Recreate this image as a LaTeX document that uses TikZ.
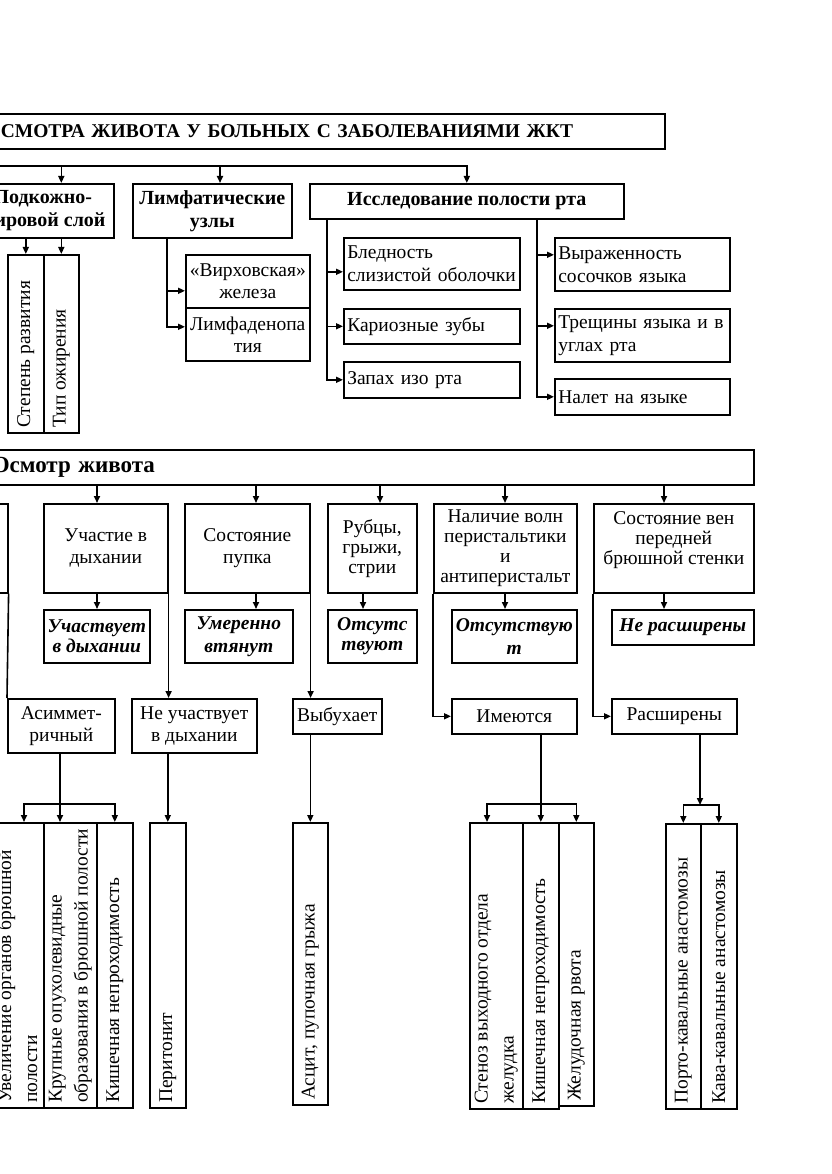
\documentclass[tikz,border=0pt]{standalone}
\usepackage{fontspec}
\usepackage{graphicx}
\setmainfont{Liberation Serif}
\usetikzlibrary{arrows.meta,calc}
\newcommand\bx[7][]{%
  \pgfmathsetmacro\bxw{#5-(#3)}\pgfmathsetmacro\bxh{#6-(#4)}\pgfmathsetmacro\bxtw{#5-(#3)-7}%
  \node[box,minimum width=\bxw pt,minimum height=\bxh pt,anchor=north west,#1] (#2) at (#3,#4) {#7};}
\newcommand\vbx[7][]{%
  \pgfmathsetmacro\bxw{#5-(#3)}\pgfmathsetmacro\bxh{#6-(#4)}%
  \node[box,minimum width=\bxw pt,minimum height=\bxh pt,anchor=north west,#1] (#2) at (#3,#4)
   {\rotatebox{90}{\parbox{\dimexpr\bxh pt-10pt\relax}{\raggedright\fontsize{19.5}{26}\selectfont #7}}};}
\tikzset{
 box/.style={draw,line width=1.6pt,inner sep=0pt,align=center,font=\fontsize{19.5}{22}\selectfont},
 bi/.style={font=\fontsize{19.5}{20.5}\selectfont\bfseries\itshape},
 bd/.style={font=\fontsize{20}{23}\selectfont\bfseries},
 lbox/.style={align=left,text width=\bxtw pt,font=\fontsize{19.5}{23}\selectfont},
 ln/.style={line width=1.6pt},
 arr/.style={line width=1.6pt,-{Triangle[length=7pt,width=6pt]}},
}
\begin{document}
\begin{tikzpicture}[x=1pt,y=-1pt]
\useasboundingbox (0,0) rectangle (831,1174);
\clip (0,0) rectangle (831,1174);
% ---------- title ----------
\bx[font=\fontsize{19.5}{23}\selectfont\bfseries,align=left,text width=644pt]{title}{-20}{113}{664}{148}{СМОТРА ЖИВОТА У БОЛЬНЫХ С ЗАБОЛЕВАНИЯМИ ЖКТ}
% ---------- level 1 ----------
\bx[bd]{podk}{-29}{183}{113}{237}{Подкожно-\\жировой слой}
\bx[bd]{limf}{132}{183}{291}{237}{Лимфатические\\узлы}
\bx[bd]{isl}{309}{183}{623}{218}{Исследование полости рта}
\vbx{step}{7}{254}{43}{432}{Степень развития}
\vbx{tip}{43}{254}{78}{432}{Тип ожирения}
\bx{virh}{185}{254}{309}{307}{«Вирховская»\\железа}
\bx{limfad}{185}{307}{309}{360}{Лимфаденопа\\тия}
\bx[lbox]{bled}{343}{237}{519}{289}{Бледность\\\mbox{слизистой оболочки}}
\bx[lbox]{kar}{343}{308}{519}{343}{Кариозные зубы}
\bx[lbox]{zap}{343}{361}{519}{397}{Запах изо рта}
\bx[lbox]{vyr}{554}{237}{729}{290}{Выраженность\\сосочков языка}
\bx[lbox]{tresh}{554}{308}{729}{361}{\mbox{Трещины языка и в}\\углах рта}
\bx[lbox]{nalet}{554}{378}{729}{414}{Налет на языке}
% connectors level 0 -> 1
\coordinate (h0) at (-5,166);
\coordinate (xl) at (220,0);
\draw[arr] (h0) -| (isl.north);
\draw[arr] (h0 -| tip.north) -- (tip.north |- podk.north);
\draw[arr] (h0 -| xl) -- (limf.north -| xl);
\draw[arr] (step.north |- podk.south) -- (step.north);
\draw[arr] (tip.north |- podk.south) -- (tip.north);
\coordinate (lv) at (167,0);
\draw[arr] (lv |- limf.south) |- ([yshift=-9.5pt]virh.west);
\draw[arr] (lv |- limf.south) |- ([yshift=7.5pt]limfad.west);
\coordinate (il) at (327,0);
\coordinate (ir) at (537,0);
\draw[arr] (il |- isl.south) |- ([yshift=-8pt]bled.west);
\draw[arr] (il |- isl.south) |- (kar.west);
\draw[arr] (il |- isl.south) |- (zap.west);
\draw[arr] (ir |- isl.south) |- ([yshift=9.5pt]vyr.west);
\draw[arr] (ir |- isl.south) |- ([yshift=9.5pt]tresh.west);
\draw[arr] (ir |- isl.south) |- (nalet.west);
% ---------- level 2 ----------
\bx[font=\fontsize{23}{26}\selectfont\bfseries,align=left,text width=741pt]{osm}{-30}{449}{753}{484}{Осмотр живота}
\bx{left0}{-60}{503}{7}{592}{}
\bx{uch}{43}{503}{167}{592}{Участие в\\дыхании}
\bx{sost}{184}{503}{309}{592}{Состояние\\пупка}
\bx[font=\fontsize{19.5}{20}\selectfont]{rub}{327}{503}{416}{592}{Рубцы,\\грыжи,\\стрии}
\bx[font=\fontsize{19.5}{20}\selectfont]{nal}{433}{503}{576}{592}{Наличие волн\\перистальтики\\и\\антиперистальт}
\bx[font=\fontsize{19.5}{20}\selectfont]{sven}{593}{503}{753}{592}{Состояние вен\\передней\\брюшной стенки\\\mbox{}}
\bx[bi]{uchv}{43}{609}{149}{662}{Участвует\\в дыхании}
\bx[bi,font=\fontsize{19.5}{23}\selectfont\bfseries\itshape]{umer}{184}{609}{292}{662}{Умеренно\\втянут}
\bx[bi]{ots1}{327}{609}{416}{662}{Отсутс\\твуют}
\bx[bi,font=\fontsize{19.5}{23}\selectfont\bfseries\itshape]{ots2}{451}{609}{576}{662}{Отсутствую\\т}
\bx[bi]{nerasch}{611}{609}{753}{644}{Не расширены}
\bx{asym}{7}{698}{114}{752}{Асиммет-\\ричный}
\bx{neuch}{131}{698}{256}{752}{Не участвует\\в дыхании}
\bx{vyb}{292}{698}{381}{733}{Выбухает}
\bx{im}{451}{698}{576}{733}{Имеются}
\bx{rasch}{611}{698}{736}{733}{Расширены}
% connectors osm -> row
\coordinate (x1) at (97,0);
\coordinate (x2) at (256,0);
\coordinate (x3) at (380,0);
\coordinate (x3b) at (363,0);
\coordinate (x4) at (505,0);
\coordinate (x5) at (664,0);
\draw[arr] (osm.south -| x1) -- (uch.north -| x1);
\draw[arr] (osm.south -| x2) -- (sost.north -| x2);
\draw[arr] (osm.south -| x3) -- (rub.north -| x3);
\draw[arr] (osm.south -| x4) -- (nal.north -| x4);
\draw[arr] (osm.south -| x5) -- (sven.north -| x5);
\draw[arr] (uch.south -| x1) -- (uchv.north -| x1);
\draw[arr] (sost.south -| x2) -- (umer.north -| x2);
\draw[arr] (rub.south -| x3b) -- (ots1.north -| x3b);
\draw[arr] (nal.south -| x4) -- (ots2.north -| x4);
\draw[arr] (sven.south -| x5) -- (nerasch.north -| x5);
\draw[ln] (left0.south east) -- (asym.north west);
\draw[arr] (uch.south east) -- (neuch.north -| uch.south east);
\draw[arr] (sost.south east) -- (vyb.north -| sost.south east);
\draw[arr] (nal.south west) |- (im.west);
\draw[arr] (sven.south west) |- (rasch.west);
% ---------- bottom ----------
\vbx{uvel}{-10}{822}{43}{1107}{Увеличение органов брюшной\\полости}
\vbx{krup}{43}{822}{96}{1107}{Крупные опухолевидные\\образования в брюшной полости}
\vbx{kish1}{96}{822}{132}{1107}{Кишечная непроходимость}
\vbx{perit}{149}{822}{185}{1107}{Перитонит}
\vbx{asc}{292}{822}{327}{1104}{Асцит, пупочная грыжа}
\vbx{sten}{469}{822}{522}{1108}{Стеноз выходного отдела\\желудка}
\vbx{kish2}{522}{822}{558}{1108}{Кишечная непроходимость}
\vbx{zhel}{558}{822}{593}{1105}{Желудочная рвота}
\vbx{porto}{665}{823}{700}{1108}{Порто-кавальные анастомозы}
\vbx{kava}{700}{823}{736}{1108}{Кава-кавальные анастомозы}
% connectors bottom
\coordinate (xa) at (60,0);
\coordinate (xa1) at (24,0);
\coordinate (ya) at (0,804);
\draw[arr] (asym.south -| xa) -- (krup.north -| xa);
\draw[arr] (ya -| xa) -| (uvel.north -| xa1);
\draw[arr] (ya -| xa) -| (kish1.north);
\draw[arr] (neuch.south -| perit.north) -- (perit.north);
\draw[arr] (vyb.south -| asc.north) -- (asc.north);
\coordinate (xb1) at (487,0);
\draw[arr] (im.south -| kish2.north) -- (kish2.north);
\draw[arr] (ya -| kish2.north) -| (sten.north -| xb1);
\draw[arr] (ya -| kish2.north) -| (zhel.north);
\coordinate (xr) at (700,0);
\coordinate (yr) at (0,805);
\draw[arr] (rasch.south -| xr) -- (yr -| xr);
\draw[arr] (yr -| xr) -| (porto.north);
\draw[arr] (yr -| xr) -| (kava.north);
\end{tikzpicture}
\end{document}
